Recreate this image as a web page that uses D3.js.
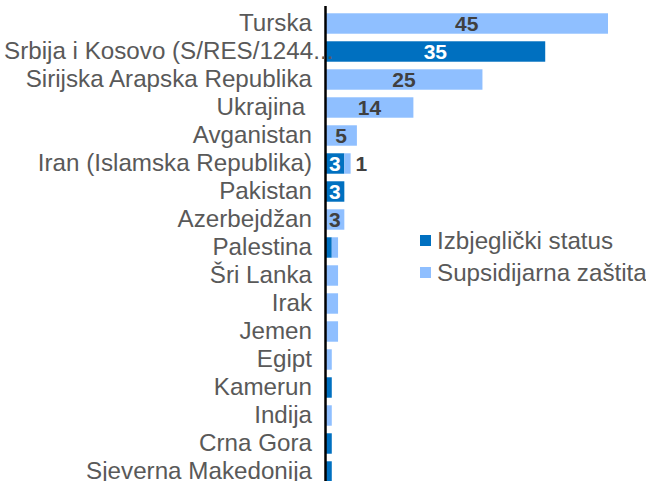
<!DOCTYPE html>
<html>
<head>
<meta charset="utf-8">
<script src="https://cdn.jsdelivr.net/npm/d3@7"></script>
<style>
  html, body { margin: 0; padding: 0; background: #fff; }
  svg { display: block; }
  text { font-family: "Liberation Sans", Arial, sans-serif; }
</style>
</head>
<body>
<svg id="chart" width="646" height="481"></svg>
<script>
const categories = [
  "Turska",
  "Srbija i Kosovo (S/RES/1244...",
  "Sirijska Arapska Republika",
  "Ukrajina ",
  "Avganistan",
  "Iran (Islamska Republika)",
  "Pakistan",
  "Azerbejdžan",
  "Palestina",
  "Šri Lanka",
  "Irak",
  "Jemen",
  "Egipt",
  "Kamerun",
  "Indija",
  "Crna Gora",
  "Sjeverna Makedonija"
];
const refugeeStatus   = [0, 35, 0, 0, 0, 3, 3, 0, 1, 0, 0, 0, 0, 1, 0, 1, 1];
const subsidiaryProt  = [45, 0, 25, 14, 5, 1, 0, 3, 1, 2, 2, 2, 1, 0, 1, 0, 0];
const seriesNames = ["Izbjeglički status", "Supsidijarna zaštita"];
const outsideLabelCats = ["Iran (Islamska Republika)"];

const colors = ["#0070C0", "#8FBFFF"];
const svg = d3.select("#chart");

const x = d3.scaleLinear().domain([0, 45]).range([325.5, 608]);
const y = d3.scaleBand().domain(categories).range([9.5, 485.5])
  .paddingInner(0.27).paddingOuter(0.135);

const rows = categories.map((c, i) => ({ cat: c, vals: [refugeeStatus[i], subsidiaryProt[i]] }));

// bars
const segs = [];
rows.forEach(r => {
  let acc = 0;
  r.vals.forEach((v, k) => {
    segs.push({ cat: r.cat, k, v, x0: acc, x1: acc + v });
    acc += v;
  });
});

svg.append("g").selectAll("rect")
  .data(segs.filter(s => s.v > 0))
  .join("rect")
  .attr("x", d => x(d.x0))
  .attr("y", d => y(d.cat))
  .attr("width", d => x(d.x1) - x(d.x0))
  .attr("height", y.bandwidth())
  .attr("fill", d => colors[d.k]);

// axis line
svg.append("line")
  .attr("x1", x(0)).attr("x2", x(0))
  .attr("y1", 6).attr("y2", 481)
  .attr("stroke", "#000").attr("stroke-width", 2.5);

// axis labels
const yAxis = d3.axisLeft(y).tickSize(0).tickPadding(13.5);
const gAxis = svg.append("g").attr("transform", "translate(" + x(0) + ",0)").call(yAxis);
gAxis.select(".domain").remove();
gAxis.selectAll("text")
  .attr("fill", "#595959")
  .style("font-size", "24.2px")
  .style("white-space", "pre")
  .attr("font-family", "Liberation Sans, Arial, sans-serif");
gAxis.selectAll(".tick text").filter(d => d === categories[1])
  .attr("text-anchor", "start")
  .attr("x", 4 - x(0));

// value labels
const lbl = svg.append("g").attr("font-weight", "bold").style("font-size", "21px");
segs.filter(s => s.v >= 3).forEach(s => {
  lbl.append("text")
    .attr("x", (x(s.x0) + x(s.x1)) / 2)
    .attr("y", y(s.cat) + y.bandwidth() / 2)
    .attr("dy", "0.36em")
    .attr("text-anchor", "middle")
    .attr("fill", s.k === 0 ? "#ffffff" : "#404040")
    .text(s.v);
});
segs.filter(s => s.v > 0 && s.v < 3 && s.k === 1 && outsideLabelCats.includes(s.cat)).forEach(s => {
  lbl.append("text")
    .attr("x", x(s.x1) + 5)
    .attr("y", y(s.cat) + y.bandwidth() / 2)
    .attr("dy", "0.36em")
    .attr("text-anchor", "start")
    .attr("fill", "#404040")
    .text(s.v);
});

// legend
const lg = svg.append("g").attr("transform", "translate(420,235)");
seriesNames.forEach((n, i) => {
  const g = lg.append("g").attr("transform", "translate(0," + (i * 32) + ")");
  g.append("rect").attr("width", 11).attr("height", 11).attr("fill", colors[i]);
  g.append("text").attr("x", 17).attr("y", 5.5).attr("dy", "0.36em")
    .attr("fill", "#595959").style("font-size", "24.2px").text(n);
});
</script>
</body>
</html>
